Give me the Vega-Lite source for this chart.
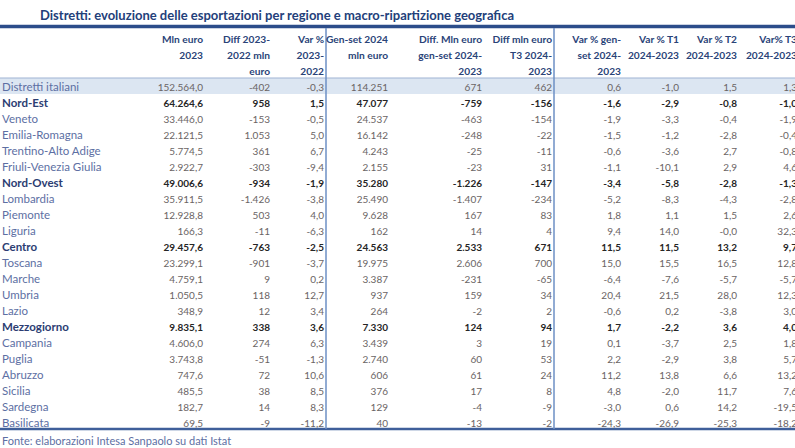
{
  "$schema": "https://vega.github.io/schema/vega-lite/v6.json",
  "width": 795,
  "height": 448,
  "autosize": {"type": "none"},
  "padding": 0,
  "background": "white",
  "config": {
    "view": {"stroke": null},
    "text": {"font": "Lato", "fontSize": 10, "baseline": "middle", "dy": 1.5}
  },
  "datasets": {
    "notes": [
      {"role": "title", "text": "Distretti: evoluzione delle esportazioni per regione e macro-ripartizione geografica"},
      {"role": "source", "text": "Fonte: elaborazioni Intesa Sanpaolo su dati Istat"}
    ],
    "columns": [
      {"key": "mln_2023", "idx": 1, "h1": "Mln euro", "h2": "2023", "h3": ""},
      {"key": "diff_2023_2022", "idx": 2, "h1": "Diff 2023-", "h2": "2022 mln", "h3": "euro"},
      {"key": "var_2023_2022", "idx": 3, "h1": "Var %", "h2": "2023-", "h3": "2022"},
      {"key": "genset_2024", "idx": 4, "h1": "Gen-set 2024", "h2": "mln euro", "h3": ""},
      {"key": "diff_genset", "idx": 5, "h1": "Diff. Mln euro", "h2": "gen-set 2024-", "h3": "2023"},
      {"key": "diff_t3", "idx": 6, "h1": "Diff mln euro", "h2": "T3 2024-", "h3": "2023"},
      {"key": "var_genset", "idx": 7, "h1": "Var % gen-", "h2": "set 2024-", "h3": "2023"},
      {"key": "var_t1", "idx": 8, "h1": "Var % T1", "h2": "2024-2023", "h3": ""},
      {"key": "var_t2", "idx": 9, "h1": "Var % T2", "h2": "2024-2023", "h3": ""},
      {"key": "var_t3", "idx": 10, "h1": "Var% T3", "h2": "2024-2023", "h3": ""}
    ],
    "rows": [
      {"label": "Distretti italiani", "level": "total", "mln_2023": "152.564,0", "diff_2023_2022": "-402", "var_2023_2022": "-0,3", "genset_2024": "114.251", "diff_genset": "671", "diff_t3": "462", "var_genset": "0,6", "var_t1": "-1,0", "var_t2": "1,5", "var_t3": "1,3"},
      {"label": "Nord-Est", "level": "macro", "mln_2023": "64.264,6", "diff_2023_2022": "958", "var_2023_2022": "1,5", "genset_2024": "47.077", "diff_genset": "-759", "diff_t3": "-156", "var_genset": "-1,6", "var_t1": "-2,9", "var_t2": "-0,8", "var_t3": "-1,0"},
      {"label": "Veneto", "level": "region", "mln_2023": "33.446,0", "diff_2023_2022": "-153", "var_2023_2022": "-0,5", "genset_2024": "24.537", "diff_genset": "-463", "diff_t3": "-154", "var_genset": "-1,9", "var_t1": "-3,3", "var_t2": "-0,4", "var_t3": "-1,9"},
      {"label": "Emilia-Romagna", "level": "region", "mln_2023": "22.121,5", "diff_2023_2022": "1.053", "var_2023_2022": "5,0", "genset_2024": "16.142", "diff_genset": "-248", "diff_t3": "-22", "var_genset": "-1,5", "var_t1": "-1,2", "var_t2": "-2,8", "var_t3": "-0,4"},
      {"label": "Trentino-Alto Adige", "level": "region", "mln_2023": "5.774,5", "diff_2023_2022": "361", "var_2023_2022": "6,7", "genset_2024": "4.243", "diff_genset": "-25", "diff_t3": "-11", "var_genset": "-0,6", "var_t1": "-3,6", "var_t2": "2,7", "var_t3": "-0,8"},
      {"label": "Friuli-Venezia Giulia", "level": "region", "mln_2023": "2.922,7", "diff_2023_2022": "-303", "var_2023_2022": "-9,4", "genset_2024": "2.155", "diff_genset": "-23", "diff_t3": "31", "var_genset": "-1,1", "var_t1": "-10,1", "var_t2": "2,9", "var_t3": "4,6"},
      {"label": "Nord-Ovest", "level": "macro", "mln_2023": "49.006,6", "diff_2023_2022": "-934", "var_2023_2022": "-1,9", "genset_2024": "35.280", "diff_genset": "-1.226", "diff_t3": "-147", "var_genset": "-3,4", "var_t1": "-5,8", "var_t2": "-2,8", "var_t3": "-1,3"},
      {"label": "Lombardia", "level": "region", "mln_2023": "35.911,5", "diff_2023_2022": "-1.426", "var_2023_2022": "-3,8", "genset_2024": "25.490", "diff_genset": "-1.407", "diff_t3": "-234", "var_genset": "-5,2", "var_t1": "-8,3", "var_t2": "-4,3", "var_t3": "-2,8"},
      {"label": "Piemonte", "level": "region", "mln_2023": "12.928,8", "diff_2023_2022": "503", "var_2023_2022": "4,0", "genset_2024": "9.628", "diff_genset": "167", "diff_t3": "83", "var_genset": "1,8", "var_t1": "1,1", "var_t2": "1,5", "var_t3": "2,6"},
      {"label": "Liguria", "level": "region", "mln_2023": "166,3", "diff_2023_2022": "-11", "var_2023_2022": "-6,3", "genset_2024": "162", "diff_genset": "14", "diff_t3": "4", "var_genset": "9,4", "var_t1": "14,0", "var_t2": "-0,0", "var_t3": "32,3"},
      {"label": "Centro", "level": "macro", "mln_2023": "29.457,6", "diff_2023_2022": "-763", "var_2023_2022": "-2,5", "genset_2024": "24.563", "diff_genset": "2.533", "diff_t3": "671", "var_genset": "11,5", "var_t1": "11,5", "var_t2": "13,2", "var_t3": "9,7"},
      {"label": "Toscana", "level": "region", "mln_2023": "23.299,1", "diff_2023_2022": "-901", "var_2023_2022": "-3,7", "genset_2024": "19.975", "diff_genset": "2.606", "diff_t3": "700", "var_genset": "15,0", "var_t1": "15,5", "var_t2": "16,5", "var_t3": "12,8"},
      {"label": "Marche", "level": "region", "mln_2023": "4.759,1", "diff_2023_2022": "9", "var_2023_2022": "0,2", "genset_2024": "3.387", "diff_genset": "-231", "diff_t3": "-65", "var_genset": "-6,4", "var_t1": "-7,6", "var_t2": "-5,7", "var_t3": "-5,7"},
      {"label": "Umbria", "level": "region", "mln_2023": "1.050,5", "diff_2023_2022": "118", "var_2023_2022": "12,7", "genset_2024": "937", "diff_genset": "159", "diff_t3": "34", "var_genset": "20,4", "var_t1": "21,5", "var_t2": "28,0", "var_t3": "12,3"},
      {"label": "Lazio", "level": "region", "mln_2023": "348,9", "diff_2023_2022": "12", "var_2023_2022": "3,4", "genset_2024": "264", "diff_genset": "-2", "diff_t3": "2", "var_genset": "-0,6", "var_t1": "0,2", "var_t2": "-3,8", "var_t3": "3,0"},
      {"label": "Mezzogiorno", "level": "macro", "mln_2023": "9.835,1", "diff_2023_2022": "338", "var_2023_2022": "3,6", "genset_2024": "7.330", "diff_genset": "124", "diff_t3": "94", "var_genset": "1,7", "var_t1": "-2,2", "var_t2": "3,6", "var_t3": "4,0"},
      {"label": "Campania", "level": "region", "mln_2023": "4.606,0", "diff_2023_2022": "274", "var_2023_2022": "6,3", "genset_2024": "3.439", "diff_genset": "3", "diff_t3": "19", "var_genset": "0,1", "var_t1": "-3,7", "var_t2": "2,5", "var_t3": "1,8"},
      {"label": "Puglia", "level": "region", "mln_2023": "3.743,8", "diff_2023_2022": "-51", "var_2023_2022": "-1,3", "genset_2024": "2.740", "diff_genset": "60", "diff_t3": "53", "var_genset": "2,2", "var_t1": "-2,9", "var_t2": "3,8", "var_t3": "5,7"},
      {"label": "Abruzzo", "level": "region", "mln_2023": "747,6", "diff_2023_2022": "72", "var_2023_2022": "10,6", "genset_2024": "606", "diff_genset": "61", "diff_t3": "24", "var_genset": "11,2", "var_t1": "13,8", "var_t2": "6,6", "var_t3": "13,2"},
      {"label": "Sicilia", "level": "region", "mln_2023": "485,5", "diff_2023_2022": "38", "var_2023_2022": "8,5", "genset_2024": "376", "diff_genset": "17", "diff_t3": "8", "var_genset": "4,8", "var_t1": "-2,0", "var_t2": "11,7", "var_t3": "7,6"},
      {"label": "Sardegna", "level": "region", "mln_2023": "182,7", "diff_2023_2022": "14", "var_2023_2022": "8,3", "genset_2024": "129", "diff_genset": "-4", "diff_t3": "-9", "var_genset": "-3,0", "var_t1": "0,6", "var_t2": "14,2", "var_t3": "-19,5"},
      {"label": "Basilicata", "level": "region", "mln_2023": "69,5", "diff_2023_2022": "-9", "var_2023_2022": "-11,2", "genset_2024": "40", "diff_genset": "-13", "diff_t3": "-2", "var_genset": "-24,3", "var_t1": "-26,9", "var_t2": "-25,3", "var_t3": "-18,2"}
    ]
  },
  "layer": [
    {
      "data": {"name": "rows"},
      "transform": [{"filter": "datum.level === 'total'"}],
      "mark": {"type": "rect", "color": "#dce6f2"},
      "encoding": {
        "y": {
          "field": "label", "type": "nominal", "axis": null,
          "scale": {
            "type": "band", "range": [30, 430], "paddingInner": 0, "paddingOuter": 0,
            "domain": ["h1", "h2", "h3", "Distretti italiani", "Nord-Est", "Veneto", "Emilia-Romagna", "Trentino-Alto Adige", "Friuli-Venezia Giulia", "Nord-Ovest", "Lombardia", "Piemonte", "Liguria", "Centro", "Toscana", "Marche", "Umbria", "Lazio", "Mezzogiorno", "Campania", "Puglia", "Abruzzo", "Sicilia", "Sardegna", "Basilicata"]
          }
        }
      }
    },
    {
      "data": {"name": "rows"},
      "transform": [{"filter": "datum.level === 'total'"}],
      "mark": {"type": "rule", "color": "#9fb3d3", "strokeWidth": 1, "yOffset": -8},
      "encoding": {
        "y": {"field": "label", "type": "nominal", "axis": null}
      }
    },
    {
      "data": {"values": [{}]},
      "mark": {"type": "rule", "color": "#2c4d8a", "strokeWidth": 3.5, "yOffset": -11.5},
      "encoding": {
        "y": {"datum": "h1", "type": "nominal", "axis": null}
      }
    },
    {
      "data": {"values": [{}]},
      "mark": {"type": "rule", "color": "#3f5f9a", "strokeWidth": 2.5, "yOffset": 7},
      "encoding": {
        "y": {"datum": "Basilicata", "type": "nominal", "axis": null}
      }
    },
    {
      "data": {"values": [{}]},
      "mark": {"type": "rule", "color": "#6d8fc4", "strokeWidth": 1.5, "xOffset": 2, "yOffset": -10, "y2Offset": 7},
      "encoding": {
        "x": {"datum": 3, "type": "quantitative", "axis": null},
        "y": {"datum": "h1", "type": "nominal", "axis": null},
        "y2": {"datum": "Basilicata"}
      }
    },
    {
      "data": {"values": [{}]},
      "mark": {"type": "rule", "color": "#6d8fc4", "strokeWidth": 1.5, "xOffset": 2, "yOffset": -10, "y2Offset": 7},
      "encoding": {
        "x": {"datum": 6, "type": "quantitative", "axis": null},
        "y": {"datum": "h1", "type": "nominal", "axis": null},
        "y2": {"datum": "Basilicata"}
      }
    },
    {
      "data": {"name": "notes"},
      "transform": [{"filter": "datum.role === 'title'"}],
      "mark": {"type": "text", "align": "left", "fontWeight": "bold", "fontSize": 13, "color": "#23407a", "xOffset": 38, "yOffset": -22, "dy": 0},
      "encoding": {
        "x": {"datum": 0, "type": "quantitative", "axis": null},
        "y": {"datum": "h1", "type": "nominal", "axis": null},
        "text": {"field": "text", "type": "nominal"}
      }
    },
    {
      "data": {"name": "notes"},
      "transform": [{"filter": "datum.role === 'source'"}],
      "mark": {"type": "text", "align": "left", "fontSize": 11, "color": "#5d6fa3", "yOffset": 18},
      "encoding": {
        "x": {"datum": 0, "type": "quantitative", "axis": null},
        "y": {"datum": "Basilicata", "type": "nominal", "axis": null},
        "text": {"field": "text", "type": "nominal"}
      }
    },
    {
      "data": {"name": "columns"},
      "transform": [
        {"fold": ["h1", "h2", "h3"], "as": ["line", "htext"]},
        {"filter": "datum.htext !== ''"}
      ],
      "mark": {"type": "text", "align": "right", "fontWeight": "bold", "color": "#2a4378", "fontSize": 10.2},
      "encoding": {
        "x": {"field": "idx", "type": "quantitative", "axis": null},
        "y": {"field": "line", "type": "nominal", "axis": null},
        "text": {"field": "htext", "type": "nominal"}
      }
    },
    {
      "data": {"name": "rows"},
      "transform": [{"filter": "datum.level !== 'macro'"}],
      "mark": {"type": "text", "align": "left", "color": "#5d6fa3", "fontSize": 11.5},
      "encoding": {
        "x": {"datum": 0, "type": "quantitative", "axis": null},
        "y": {"field": "label", "type": "nominal", "axis": null},
        "text": {"field": "label", "type": "nominal"}
      }
    },
    {
      "data": {"name": "rows"},
      "transform": [{"filter": "datum.level === 'macro'"}],
      "mark": {"type": "text", "align": "left", "color": "#2c3d72", "fontSize": 11.5, "fontWeight": "bold"},
      "encoding": {
        "x": {"datum": 0, "type": "quantitative", "axis": null},
        "y": {"field": "label", "type": "nominal", "axis": null},
        "text": {"field": "label", "type": "nominal"}
      }
    },
    {
      "data": {"name": "rows"},
      "transform": [
        {"filter": "datum.level !== 'macro'"},
        {"fold": ["mln_2023", "diff_2023_2022", "var_2023_2022", "genset_2024", "diff_genset", "diff_t3", "var_genset", "var_t1", "var_t2", "var_t3"], "as": ["key", "value"]},
        {"lookup": "key", "from": {"data": {"name": "columns"}, "key": "key", "fields": ["idx"]}}
      ],
      "mark": {"type": "text", "align": "right", "color": "#6a6464"},
      "encoding": {
        "x": {"field": "idx", "type": "quantitative", "axis": null},
        "y": {"field": "label", "type": "nominal", "axis": null},
        "text": {"field": "value", "type": "nominal"}
      }
    },
    {
      "data": {"name": "rows"},
      "transform": [
        {"filter": "datum.level === 'macro'"},
        {"fold": ["mln_2023", "diff_2023_2022", "var_2023_2022", "genset_2024", "diff_genset", "diff_t3", "var_genset", "var_t1", "var_t2", "var_t3"], "as": ["key", "value"]},
        {"lookup": "key", "from": {"data": {"name": "columns"}, "key": "key", "fields": ["idx"]}}
      ],
      "mark": {"type": "text", "align": "right", "color": "#262626", "fontWeight": "bold"},
      "encoding": {
        "x": {
          "field": "idx", "type": "quantitative", "axis": null,
          "scale": {"type": "linear", "domain": [0, 1, 2, 3, 4, 5, 6, 7, 8, 9, 10], "range": [2, 203, 270, 324, 388, 482, 552, 621, 679, 737, 797], "nice": false, "zero": false}
        },
        "y": {"field": "label", "type": "nominal", "axis": null},
        "text": {"field": "value", "type": "nominal"}
      }
    }
  ]
}
